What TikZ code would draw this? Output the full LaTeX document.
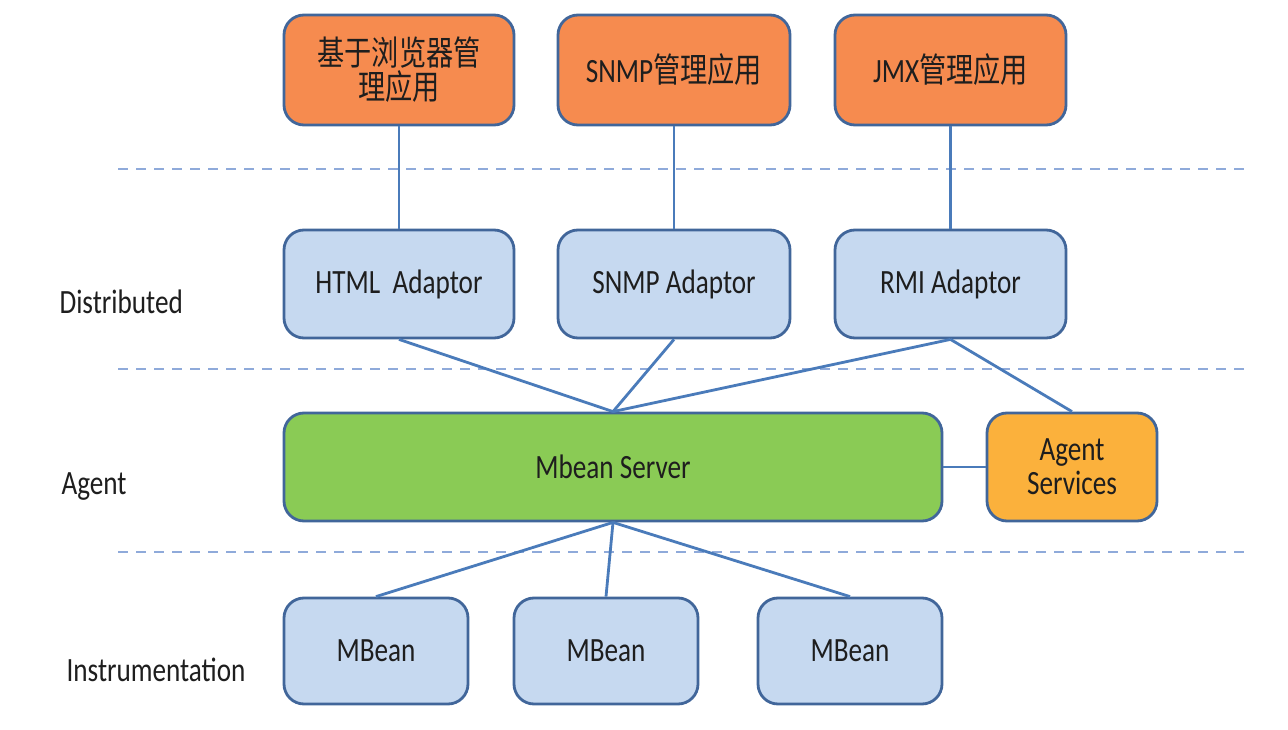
\documentclass[tikz,border=0pt]{standalone}
\usepackage{fontspec}
\setmainfont{Carlito}[FakeStretch=0.8]
\newfontfamily\cjk{Noto Sans CJK SC}[FakeStretch=0.8]
\definecolor{orangefill}{HTML}{F68B4F}
\definecolor{bluefill}{HTML}{C6D9F0}
\definecolor{greenfill}{HTML}{8ACB55}
\definecolor{goldfill}{HTML}{FBB13C}
\definecolor{boxborder}{HTML}{41669A}
\definecolor{conn}{HTML}{4A7BBA}
\definecolor{sep}{HTML}{8FAADA}
\definecolor{txt}{HTML}{1E1E1E}
\newcommand{\cj}[1]{{\cjk\fontsize{34}{34}\selectfont #1}}
\tikzset{
  box/.style={draw=boxborder, line width=2.8pt, rounded corners=20pt, inner sep=0pt,
    align=center, text=txt, font=\fontsize{34}{34}\selectfont},
  appbox/.style={box, fill=orangefill, minimum height=110pt},
  adbox/.style={box, fill=bluefill, minimum height=108pt},
  beanbox/.style={box, fill=bluefill, minimum width=184pt, minimum height=106pt},
  link/.style={draw=conn, line width=2.8pt},
  sepline/.style={draw=sep, line width=2pt, dash pattern=on 10pt off 8pt},
  layer/.style={anchor=west, text=txt, font=\fontsize{34}{34}\selectfont}
}
\begin{document}
\begin{tikzpicture}[x=1pt,y=-1pt]
\useasboundingbox (0,0) rectangle (1288,730);
\fill[white] (0,0) rectangle (1288,730);
% separators
\coordinate (s1a) at (118,169); \coordinate (s1b) at (1248,169);
\coordinate (s2a) at (118,369); \coordinate (s2b) at (1248,369);
\coordinate (s3a) at (118,552); \coordinate (s3b) at (1248,552);
\draw[sepline] (s1a) -- (s1b);
\draw[sepline] (s2a) -- (s2b);
\draw[sepline] (s3a) -- (s3b);
% top apps
\node[appbox, minimum width=230pt] (app1) at (399,70) {\cj{基于浏览器管}\\\cj{理应用}};
\node[appbox, minimum width=232pt] (app2) at (674,70) {SNMP\cj{管理应用}};
\node[appbox, minimum width=231pt] (app3) at (950.5,70) {JMX\cj{管理应用}};
% adaptors
\node[adbox, minimum width=230pt] (html) at (399,284) {HTML\ \ Adaptor};
\node[adbox, minimum width=232pt] (snmp) at (674,284) {SNMP Adaptor};
\node[adbox, minimum width=231pt] (rmi) at (950.5,284) {RMI Adaptor};
% agent
\node[box, fill=greenfill, minimum width=658pt, minimum height=108pt] (server) at (613,467) {Mbean Server};
\node[box, fill=goldfill, minimum width=170pt, minimum height=108pt] (services) at (1072,467) {Agent\\Services};
% beans
\node[beanbox] (bean1) at (376,651) {MBean};
\node[beanbox] (bean2) at (606,651) {MBean};
\node[beanbox] (bean3) at (850,651) {MBean};
% layer labels
\node[layer] (ldist) at (56,302) {Distributed};
\node[layer] (lagent) at (58,487) {Agent};
\node[layer] (linst) at (63,670) {Instrumentation};
% connectors
\draw[link] (app1.south) -- (html.north);
\draw[link] (app2.south) -- (snmp.north);
\draw[link] (app3.south) -- (rmi.north);
\draw[link] (html.south) -- (server.north);
\draw[link] (snmp.south) -- (server.north);
\draw[link] (rmi.south) -- (server.north);
\draw[link] (rmi.south) -- (services.north);
\draw[link] (server.east) -- (services.west);
\draw[link] (server.south) -- (bean1.north);
\draw[link] (server.south) -- (bean2.north);
\draw[link] (server.south) -- (bean3.north);
\end{tikzpicture}
\end{document}
